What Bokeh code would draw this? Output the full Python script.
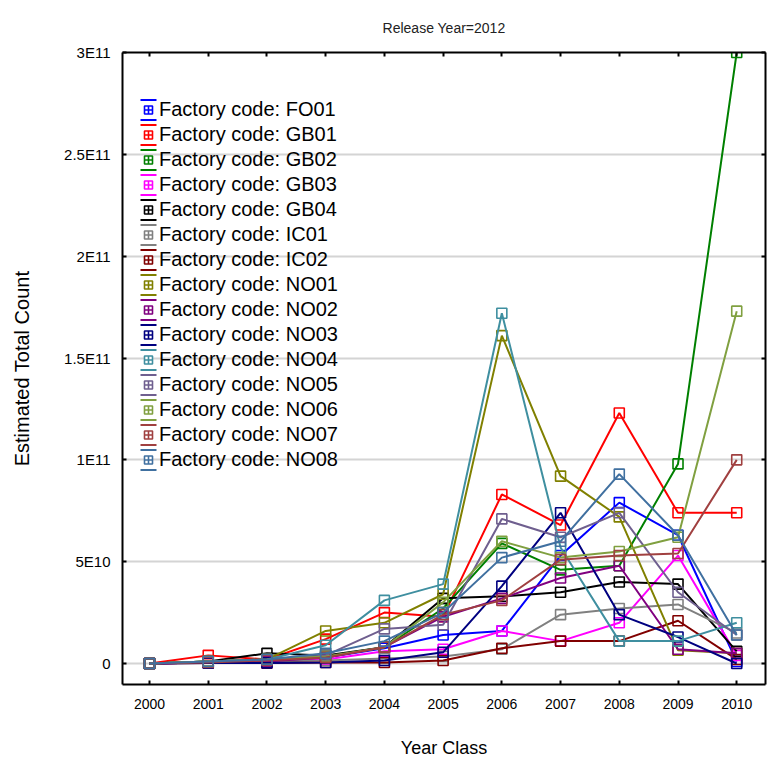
from bokeh.plotting import figure
from bokeh.models import (LinearAxis, FixedTicker, Legend, LegendItem, Range1d,
                          ColumnDataSource)
from bokeh.embed import file_html
from bokeh.resources import INLINE

years = [2000, 2001, 2002, 2003, 2004, 2005, 2006, 2007, 2008, 2009, 2010]
year_labels = [str(y) for y in years]

factories = ["FO01", "GB01", "GB02", "GB03", "GB04", "IC01", "IC02", "NO01",
             "NO02", "NO03", "NO04", "NO05", "NO06", "NO07", "NO08"]

FO01 = [0, 0.5e9, 1.5e9, 3e9, 7.5e9, 14e9, 16e9, 53e9, 79e9, 63e9, 1e9]
GB01 = [0, 4e9, 2e9, 12e9, 25e9, 23e9, 83e9, 68e9, 123e9, 74e9, 74e9]
GB02 = [0, 1e9, 2e9, 3.5e9, 8e9, 27e9, 59e9, 46e9, 48e9, 98e9, 300e9]
GB03 = [0, 0.5e9, 1e9, 2e9, 6e9, 7e9, 16e9, 11e9, 20e9, 53e9, 4e9]
GB04 = [0, 1e9, 5e9, 4e9, 8e9, 32e9, 33e9, 35e9, 40e9, 39e9, 6e9]
IC01 = [0, 0.5e9, 1e9, 1.5e9, 2.5e9, 3.5e9, 7e9, 24e9, 27e9, 29e9, 15e9]
IC02 = [0, 0.2e9, 0.2e9, 0.5e9, 0.5e9, 1.5e9, 7.5e9, 11e9, 11e9, 21e9, 2e9]
NO01 = [0, 1e9, 2e9, 16e9, 20e9, 34e9, 161e9, 92e9, 72e9, 6.5e9, 5e9]
NO02 = [0, 0.5e9, 1e9, 3e9, 8e9, 23e9, 32e9, 42e9, 48e9, 7e9, 5e9]
NO03 = [0, 0.2e9, 0.3e9, 0.5e9, 1.5e9, 5.5e9, 38e9, 74e9, 24e9, 13e9, 0]
NO04 = [0, 1e9, 2e9, 9e9, 31e9, 39e9, 172e9, 57e9, 11e9, 11e9, 20e9]
NO05 = [0, 1e9, 2e9, 4e9, 17e9, 19e9, 71e9, 62e9, 74e9, 35e9, 14e9]
NO06 = [0, 1e9, 2e9, 3.5e9, 8e9, 30e9, 60e9, 52e9, 55e9, 62e9, 173e9]
NO07 = [0, 0.5e9, 1.5e9, 3e9, 8e9, 24e9, 31e9, 51e9, 53e9, 54e9, 100e9]
NO08 = [0, 1e9, 2e9, 5e9, 11e9, 25e9, 52e9, 60e9, 93e9, 63e9, 14e9]

series = [FO01, GB01, GB02, GB03, GB04, IC01, IC02, NO01, NO02, NO03, NO04,
          NO05, NO06, NO07, NO08]

colors = ["#0000FF", "#FF0000", "#008000", "#FF00FF", "#000000", "#808080",
          "#800000", "#808000", "#800080", "#000080", "#3F8FA0", "#6F5F8F",
          "#80A040", "#A04040", "#4070A0"]

y_ticks = [0, 5e10, 1e11, 1.5e11, 2e11, 2.5e11, 3e11]
y_tick_labels = ["0", "5E10", "1E11", "1.5E11", "2E11", "2.5E11", "3E11"]

FONT = "Liberation Sans"

p = figure(width=771, height=760, output_backend="svg", toolbar_location=None,
           x_range=Range1d(1999.54, 2010.49), y_range=Range1d(-1.03e10, 3e11),
           min_border_left=122, min_border_right=6, min_border_top=52,
           min_border_bottom=74, title="Release Year=2012")

p.title.align = "center"
p.title.text_font = FONT
p.title.text_font_size = "14px"
p.title.text_font_style = "normal"
p.title.text_color = "#222222"
p.title.standoff = 34

p.xgrid.visible = False
p.ygrid.ticker = FixedTicker(ticks=y_ticks)
p.ygrid.grid_line_color = "#d4d4d4"
p.ygrid.grid_line_width = 2
p.outline_line_color = None

xticker = FixedTicker(ticks=years)
yticker = FixedTicker(ticks=y_ticks)

xa = p.xaxis[0]
xa.ticker = xticker
xa.major_label_overrides = {y: l for y, l in zip(years, year_labels)}
xa.axis_label = "Year Class"
ya = p.yaxis[0]
ya.ticker = yticker
ya.major_label_overrides = {t: l for t, l in zip(y_ticks, y_tick_labels)}
ya.axis_label = "Estimated Total Count"

for ax in (xa, ya):
    ax.axis_line_width = 2
    ax.axis_line_color = "black"
    ax.major_tick_in = 4
    ax.major_tick_out = 0
    ax.major_tick_line_width = 2
    ax.minor_tick_line_color = None
    ax.major_label_text_font = FONT
    ax.major_label_text_color = "black"
    ax.axis_label_text_font = FONT
    ax.axis_label_text_font_style = "normal"
    ax.axis_label_text_color = "black"
xa.major_label_text_font_size = "14px"
ya.major_label_text_font_size = "15px"
xa.axis_label_text_font_size = "18px"
ya.axis_label_text_font_size = "20px"
xa.major_label_standoff = 14
ya.major_label_standoff = 12
xa.axis_label_standoff = 26
ya.axis_label_standoff = 28

for loc, tk in (("above", xticker), ("right", yticker)):
    ax = LinearAxis(ticker=tk, major_label_text_font_size="1px",
                    major_label_text_color=None, major_label_standoff=0,
                    axis_line_width=2, major_tick_in=4, major_tick_out=0,
                    major_tick_line_width=2, minor_tick_line_color=None)
    p.add_layout(ax, loc)

items = []
for name, vals, c in zip(factories, series, colors):
    src = ColumnDataSource(dict(x=years, y=vals))
    p.line("x", "y", source=src, line_color=c, line_width=2)
    # legend-only error-bar icon: caps from a dashed outline, stem from hatch
    bar = p.rect("x", "y", width=1, height=1, source=src, fill_color=None,
                 line_color=c, line_width=2, line_dash="16 20",
                 hatch_pattern="|", hatch_color=c, hatch_scale=296,
                 hatch_weight=2)
    bar.visible = False
    p.scatter("x", "y", source=src, marker="square", size=10,
              line_color=c, line_width=1.6, fill_color=None)
    lg = p.scatter("x", "y", source=src, marker="square_cross", size=9,
                   line_color=c, line_width=1.6, fill_color="white")
    lg.visible = False
    items.append(LegendItem(label="Factory code: " + name,
                            renderers=[bar, lg]))

legend = Legend(items=items, location=(16, 212), padding=0, spacing=0,
                margin=0, glyph_width=20, glyph_height=25, label_height=25,
                label_standoff=1, border_line_color=None,
                background_fill_alpha=0, label_text_font=FONT,
                label_text_font_size="20px", label_text_color="black")
p.add_layout(legend, "center")

open("out.html", "w").write(file_html(p, INLINE))
